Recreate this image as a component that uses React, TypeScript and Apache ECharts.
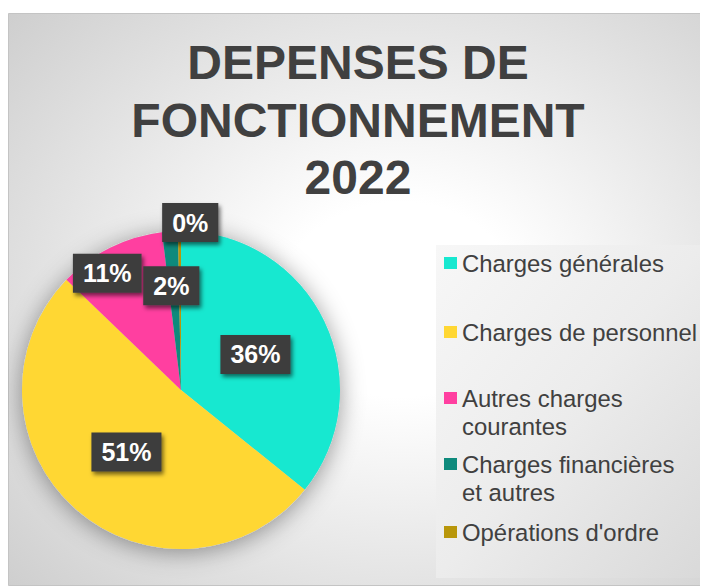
import React, { useEffect, useRef } from "react";
import * as echarts from "echarts";

const titleLines = ["DEPENSES DE", "FONCTIONNEMENT", "2022"];
const categories = [
  "Charges générales",
  "Charges de personnel",
  "Autres charges courantes",
  "Charges financières et autres",
  "Opérations d'ordre",
];
const legendLabels = [
  "Charges générales",
  "Charges de personnel",
  "\nAutres charges\ncourantes",
  "\nCharges financières\net autres",
  "Opérations d'ordre",
];
const shares = [35.8, 51.4, 10.9, 1.6, 0.3];
const colors = ["#17E8D0", "#FFD733", "#FF3FA0", "#0E8A7C", "#B8960A"];
// manual label nudges (as in the original, small slices' labels were dragged)
const labelOffsets: [number, number][] = [
  [0, 0],
  [0, 0],
  [-37, -43],
  [-4, -22],
  [10, -85],
];
const legendTops = [236, 305, 343, 409, 505];

const FONT = "'Liberation Sans', Arial, Helvetica, sans-serif";

export default function App() {
  const ref = useRef<HTMLDivElement>(null);
  useEffect(() => {
    if (!ref.current) return;
    const chart = echarts.init(ref.current, undefined, { renderer: "svg" });
    const W = 700;
    const H = 573;
    const legends = categories.map((name, i) => ({
      data: [name],
      left: 436,
      top: legendTops[i],
      padding: 0,
      orient: "vertical",
      icon: "rect",
      itemWidth: 13,
      itemHeight: 12,
      selectedMode: false,
      formatter: () => legendLabels[i],
      textStyle: {
        fontFamily: FONT,
        fontSize: 23.9,
        lineHeight: 28,
        color: "#404040",
      },
    }));
    chart.setOption({
      animation: false,
      title: {
        text: titleLines.join("\n"),
        left: "center",
        top: 21,
        padding: [0, 0, 0, 12],
        textStyle: {
          fontFamily: FONT,
          fontSize: 48,
          fontWeight: "bold",
          lineHeight: 57.5,
          color: "#404040",
        },
      },
      graphic: [
        {
          type: "rect",
          z: -10,
          silent: true,
          shape: { x: 0.5, y: 0.5, width: W - 1, height: H - 1 },
          style: {
            fill: {
              type: "radial",
              x: 0.56,
              y: 0.5,
              r: 0.85,
              colorStops: [
                { offset: 0, color: "#ffffff" },
                { offset: 0.2, color: "#ffffff" },
                { offset: 1, color: "#c6c6c6" },
              ],
            },
            stroke: "#c4c4c4",
            lineWidth: 1,
          },
        },
        {
          type: "rect",
          z: -9,
          silent: true,
          shape: { x: 428, y: 232, width: 266, height: 333 },
          style: {
            fill: {
              type: "linear",
              x: 0,
              y: 0,
              x2: 1,
              y2: 1,
              colorStops: [
                { offset: 0, color: "#f7f7f7" },
                { offset: 0.5, color: "#ececec" },
                { offset: 1, color: "#d9d9d9" },
              ],
            },
          },
        },
      ],
      legend: legends,
      series: [
        {
          type: "pie",
          name: "ombre",
          silent: true,
          z: 1,
          center: [173, 377],
          radius: 159,
          label: { show: false },
          labelLine: { show: false },
          data: [{ value: 1, name: "" }],
          itemStyle: {
            color: "#d0d0d0",
            shadowBlur: 24,
            shadowColor: "rgba(0,0,0,0.4)",
            shadowOffsetY: 3,
          },
        },
        {
          type: "pie",
          name: "Dépenses",
          z: 2,
          center: [173, 377],
          radius: 159,
          startAngle: 90,
          clockwise: true,
          avoidLabelOverlap: false,
          color: colors,
          labelLine: { show: false },
          label: {
            show: true,
            position: "inside",
            formatter: (p: any) => Math.round(p.percent) + "%",
            fontFamily: FONT,
            fontSize: 25,
            fontWeight: "bold",
            color: "#ffffff",
            lineHeight: 29,
            backgroundColor: "#3d3d3d",
            padding: [5, 10, 5, 10],
            shadowColor: "rgba(0,0,0,0.55)",
            shadowBlur: 4,
            shadowOffsetX: 2,
            shadowOffsetY: 3,
          },
          data: categories.map((name, i) => ({
            name,
            value: shares[i],
            label: { offset: labelOffsets[i] },
          })),
        },
      ],
    });
    return () => chart.dispose();
  }, []);
  return (
    <div style={{ paddingTop: 5 }}>
      <div ref={ref} style={{ width: 700, height: 573 }} />
    </div>
  );
}
